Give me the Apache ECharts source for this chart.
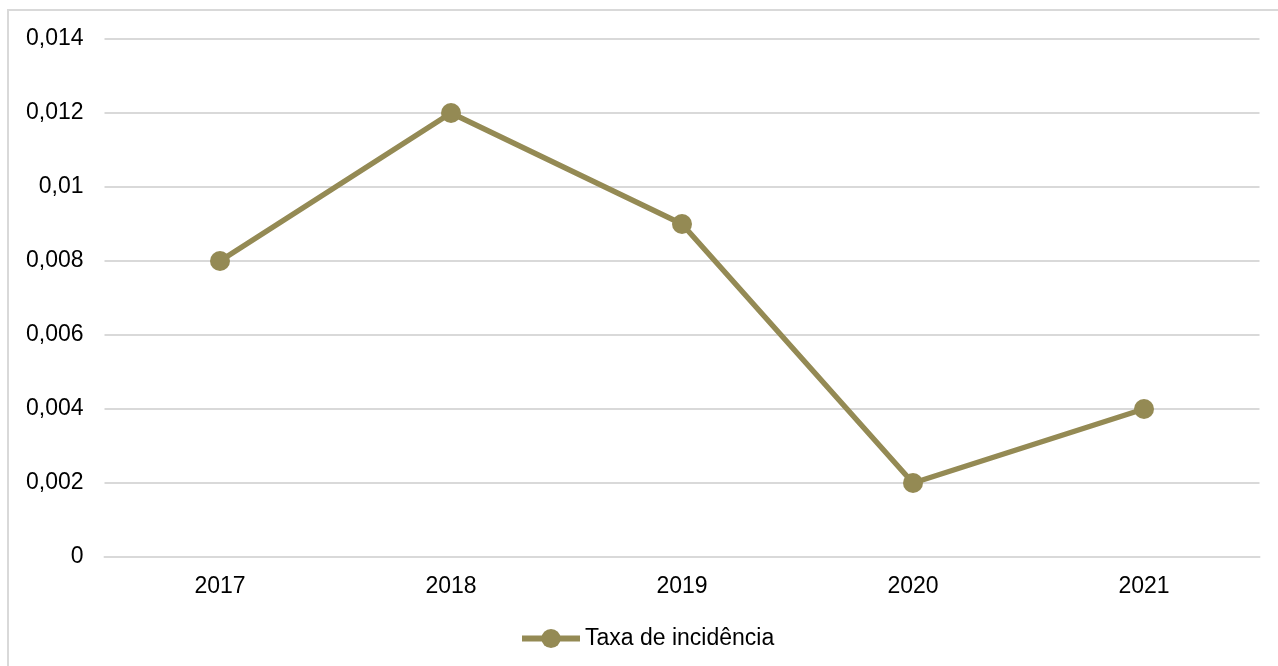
<!doctype html>
<html lang="pt">
<head>
    <meta charset="utf-8">
    <title>Taxa de incidência</title>
    <script src="https://cdn.jsdelivr.net/npm/echarts@6/dist/echarts.min.js"></script>
    <style>
        html, body { margin: 0; padding: 0; background: #fff; }
        #main { width: 1278px; height: 666px; }
    </style>
</head>
<body>
<div id="main"></div>
<script>
    // dados
    var anos = ['2017', '2018', '2019', '2020', '2021'];
    var taxa = [0.008, 0.012, 0.009, 0.002, 0.004];
    var yMin = 0, yMax = 0.014, yPasso = 0.002;

    var cor = '#948a54';

    echarts.init(document.getElementById('main')).setOption({
        animation: false,
        textStyle: { fontFamily: 'Liberation Sans, Arial, sans-serif' },
        graphic: [{
            type: 'rect',
            shape: { x: 8, y: 10, width: 1400, height: 800 },
            style: { fill: 'none', stroke: '#d9d9d9', lineWidth: 2 },
            silent: true
        }],
        grid: { left: 104.5, right: 18.5, top: 39, bottom: 109 },
        legend: {
            left: 514,
            top: 622,
            itemWidth: 58,
            itemHeight: 24,
            itemGap: 4,
            lineStyle: { width: 6 },
            textStyle: { fontSize: 23, color: '#000' },
            data: ['Taxa de incidência']
        },
        xAxis: {
            type: 'category',
            data: anos,
            boundaryGap: true,
            axisLine: { show: true, lineStyle: { color: '#d9d9d9', width: 2 } },
            axisTick: { show: false },
            axisLabel: { fontSize: 23, color: '#000', margin: 18 }
        },
        yAxis: {
            type: 'value',
            min: yMin,
            max: yMax,
            interval: yPasso,
            axisLine: { show: false },
            axisTick: { show: false },
            splitLine: { lineStyle: { color: '#d9d9d9', width: 2 } },
            axisLabel: {
                fontSize: 23,
                color: '#000',
                margin: 21,
                formatter: function (v) {
                    return String(+v.toFixed(3)).replace('.', ',');
                }
            }
        },
        series: [{
            name: 'Taxa de incidência',
            type: 'line',
            data: taxa,
            symbol: 'circle',
            symbolSize: 20,
            itemStyle: { color: cor },
            lineStyle: { color: cor, width: 5.5 }
        }]
    });
</script>
</body>
</html>
